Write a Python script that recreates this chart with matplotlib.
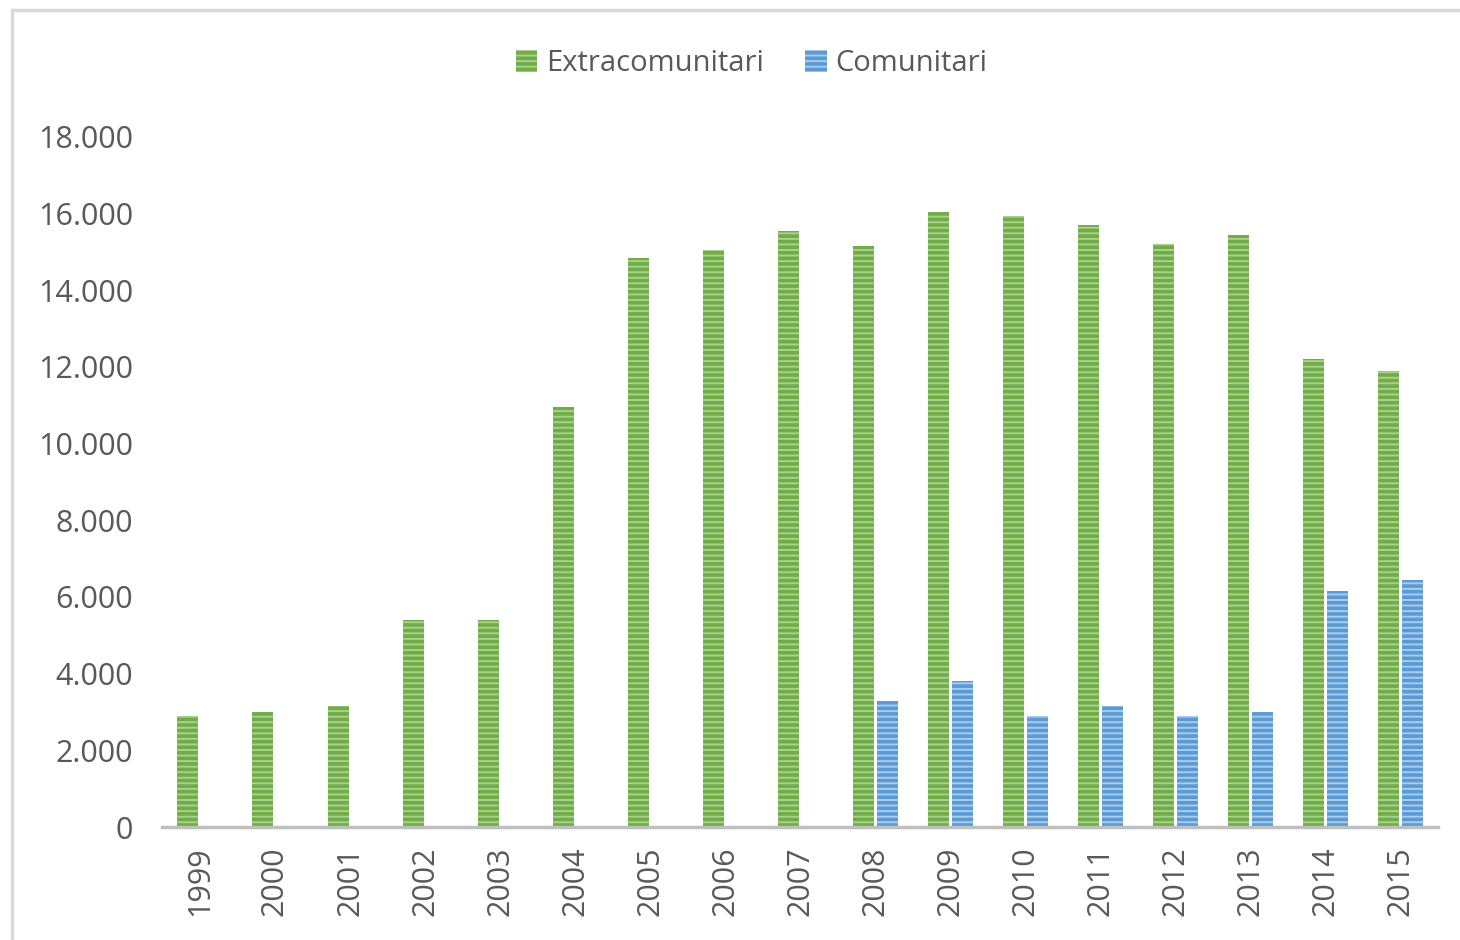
import matplotlib.pyplot as plt
import matplotlib.patches as patches
import numpy as np

years = ['1999', '2000', '2001', '2002', '2003', '2004', '2005', '2006', '2007',
         '2008', '2009', '2010', '2011', '2012', '2013', '2014', '2015']
extracomunitari = [2900, 3000, 3150, 5400, 5400, 10950, 14850, 15050, 15550,
                   15150, 16050, 15950, 15700, 15200, 15450, 12200, 11900]
comunitari = [0, 0, 0, 0, 0, 0, 0, 0, 0,
              3300, 3800, 2900, 3150, 2900, 3000, 6150, 6450]

plt.rcParams['font.family'] = ['Open Sans', 'DejaVu Sans']
plt.rcParams['hatch.linewidth'] = 2.6

text_col = '#595959'
green_face = '#A9D18E'
green_hatch = '#70AD47'
blue_face = '#A9CCEB'
blue_hatch = '#5B9BD5'

fig = plt.figure(figsize=(14.6, 9.4), dpi=100)
ax = fig.add_axes([0.1113, 0.1202, 0.8733, 0.7341])

x = np.arange(len(years))
w = 0.28
gap = 0.02
ax.bar(x - w / 2 - gap, extracomunitari, width=w, color=green_face,
       edgecolor=green_hatch, hatch='---', linewidth=0, label='Extracomunitari')
ax.bar(x + w / 2 + gap, comunitari, width=w, color=blue_face,
       edgecolor=blue_hatch, hatch='---', linewidth=0, label='Comunitari')

ax.set_xlim(-0.5, len(years) - 0.5)
ax.set_ylim(0, 18000)
ax.set_yticks(range(0, 18001, 2000))
ax.set_yticklabels([f'{v:,}'.replace(',', '.') for v in range(0, 18001, 2000)])
ax.set_xticks(x)
ax.set_xticklabels(years, rotation=90)

for s in ['top', 'right', 'left']:
    ax.spines[s].set_visible(False)
ax.spines['bottom'].set_color('#BFBFBF')
ax.spines['bottom'].set_linewidth(2.5)
ax.tick_params(axis='y', length=0, pad=21, labelsize=22, labelcolor=text_col)
ax.tick_params(axis='x', length=0, pad=14, labelsize=22, labelcolor=text_col)

ax.legend(loc='upper center', bbox_to_anchor=(0.462, 1.165), ncol=2, frameon=False,
          fontsize=21, labelcolor=text_col, handlelength=0.75, handleheight=0.75,
          handletextpad=0.3, columnspacing=1.4)

# light frame around the chart area
fig.patches.append(patches.Rectangle((12 / 1460, -0.05), 1.1, 1 - 10 / 940 + 0.05,
                                     transform=fig.transFigure, fill=False,
                                     edgecolor='#D9D9D9', linewidth=2.5))

fig.savefig('out.png', dpi=100)
